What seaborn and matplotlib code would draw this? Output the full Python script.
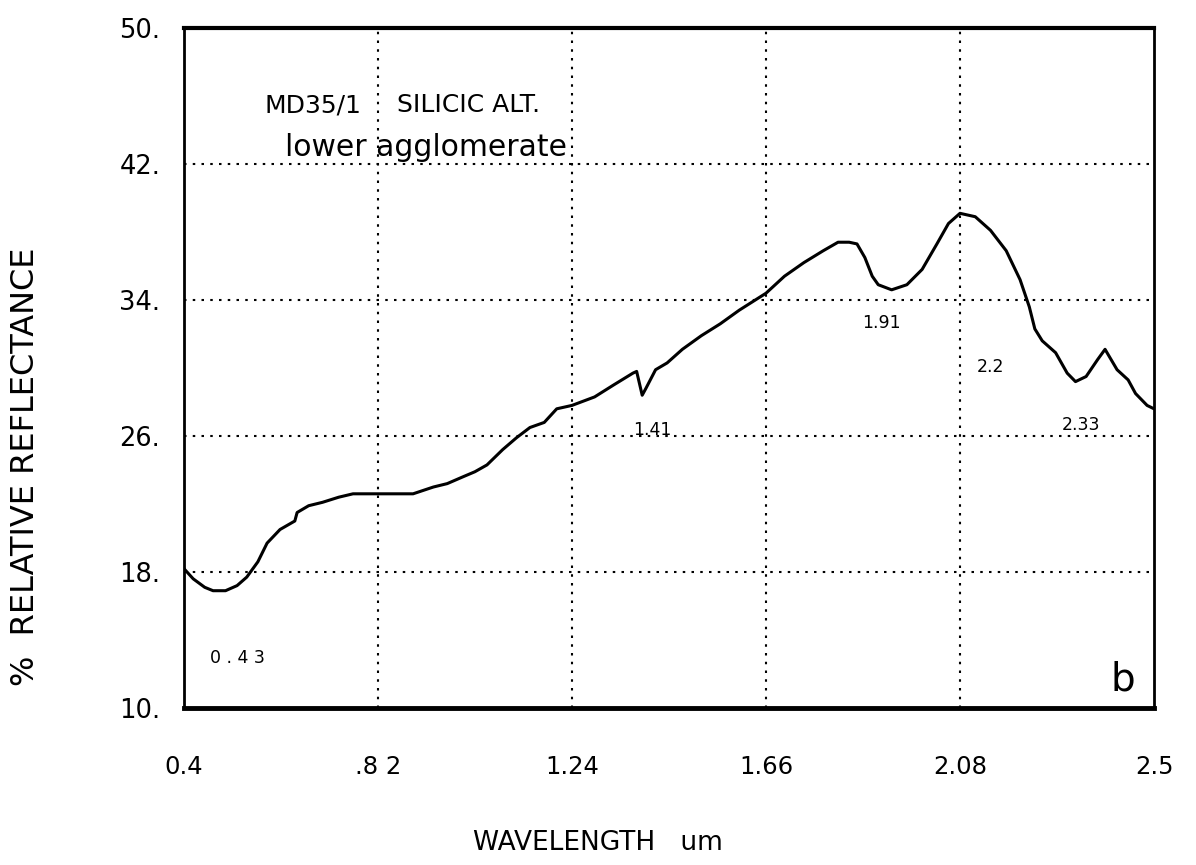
"""Reflectance spectrum, sample MD35/1 (silicic alteration, lower agglomerate)."""

import matplotlib
matplotlib.use("Agg")
import matplotlib.pyplot as plt
import seaborn as sns
import pandas as pd

# values
wavelength = [0.400, 0.420, 0.445, 0.463, 0.490, 0.515, 0.536, 0.560, 0.580, 0.608,
              0.640, 0.645, 0.670, 0.700, 0.735, 0.766, 0.800, 0.824, 0.860, 0.896,
              0.940, 0.970, 1.004, 1.030, 1.056, 1.090, 1.120, 1.149, 1.180, 1.207,
              1.240, 1.289, 1.330, 1.372, 1.380, 1.392, 1.400, 1.421, 1.446, 1.479,
              1.520, 1.561, 1.602, 1.660, 1.700, 1.742, 1.784, 1.816, 1.840, 1.857,
              1.874, 1.890, 1.903, 1.932, 1.965, 1.998, 2.030, 2.055, 2.080, 2.113,
              2.146, 2.180, 2.210, 2.230, 2.242, 2.258, 2.287, 2.312, 2.330, 2.353,
              2.378, 2.394, 2.420, 2.444, 2.460, 2.485, 2.500]
reflectance = [18.2, 17.6, 17.1, 16.9, 16.9, 17.2, 17.7, 18.6, 19.7, 20.5,
               21.0, 21.5, 21.9, 22.1, 22.4, 22.6, 22.6, 22.6, 22.6, 22.6,
               23.0, 23.2, 23.6, 23.9, 24.3, 25.2, 25.9, 26.5, 26.8, 27.6,
               27.8, 28.3, 29.0, 29.7, 29.8, 28.4, 28.8, 29.9, 30.3, 31.1,
               31.9, 32.6, 33.4, 34.4, 35.4, 36.2, 36.9, 37.4, 37.4, 37.3,
               36.5, 35.4, 34.9, 34.6, 34.9, 35.8, 37.3, 38.5, 39.1, 38.9,
               38.1, 36.9, 35.2, 33.6, 32.3, 31.6, 30.9, 29.7, 29.2, 29.5,
               30.5, 31.1, 29.9, 29.3, 28.5, 27.8, 27.6]

x_ticks = [0.4, 0.82, 1.24, 1.66, 2.08, 2.5]
x_ticklabels = ["0.4", ".8 2", "1.24", "1.66", "2.08", "2.5"]
y_ticks = [10, 18, 26, 34, 42, 50]
y_ticklabels = ["10.", "18.", "26.", "34.", "42.", "50."]

# absorption features marked on the plot: (label, x, y)
features = [("0 . 4 3", 0.515, 12.95), ("1.41", 1.413, 26.35), ("1.91", 1.909, 32.65),
            ("2.2", 2.145, 30.05), ("2.33", 2.342, 26.65)]

df = pd.DataFrame({"wavelength": wavelength, "reflectance": reflectance})

sns.set_style("white")
plt.rcParams["font.family"] = ["DejaVu Sans"]
plt.rcParams["text.color"] = "black"
plt.rcParams["xtick.color"] = "black"
plt.rcParams["ytick.color"] = "black"

fig = plt.figure(figsize=(11.96, 8.65), dpi=100)
ax = fig.add_axes([0.1538, 0.1815, 0.8111, 0.7861])

sns.lineplot(data=df, x="wavelength", y="reflectance", ax=ax,
             color="black", linewidth=2.2, estimator=None, sort=False)

ax.set_xlim(0.4, 2.5)
ax.set_ylim(10, 50)
ax.set_xticks(x_ticks)
ax.set_xticklabels(x_ticklabels, fontsize=17.5)
ax.set_yticks(y_ticks)
ax.set_yticklabels(y_ticklabels, fontsize=18.5)
ax.tick_params(axis="x", length=0, pad=34)
ax.tick_params(axis="y", length=0, pad=17)
ax.set_xlabel("")
ax.set_ylabel("")

# dotted grid only on the inner lines
for xv in x_ticks[1:-1]:
    ax.axvline(xv, color="black", linestyle=(0, (1.2, 3)), linewidth=1.5, zorder=0)
for yv in y_ticks[1:-1]:
    ax.axhline(yv, color="black", linestyle=(0, (1.2, 3)), linewidth=1.5, zorder=0)

for side, lw in [("top", 3), ("bottom", 3.5), ("left", 2), ("right", 2)]:
    ax.spines[side].set_visible(True)
    ax.spines[side].set_color("black")
    ax.spines[side].set_linewidth(lw)

ax.text(0.575, 45.06, "MD35/1", fontsize=18, va="baseline", ha="left")
ax.text(0.862, 45.06, "SILICIC ALT.", fontsize=18, va="baseline", ha="left")
ax.text(0.619, 42.45, "lower agglomerate", fontsize=21.5, va="baseline", ha="left")
for label, fx, fy in features:
    ax.text(fx, fy, label, fontsize=12.5, ha="center", va="center")
ax.text(2.433, 11.65, "b", fontsize=28, ha="center", va="center")

fig.text(0.5, 0.025, "WAVELENGTH   um", fontsize=19, ha="center", va="center")
fig.text(0.021, 0.46, "%  RELATIVE REFLECTANCE", fontsize=23, rotation=90,
         ha="center", va="center")

plt.savefig("out.png", dpi=100)
plt.close()
